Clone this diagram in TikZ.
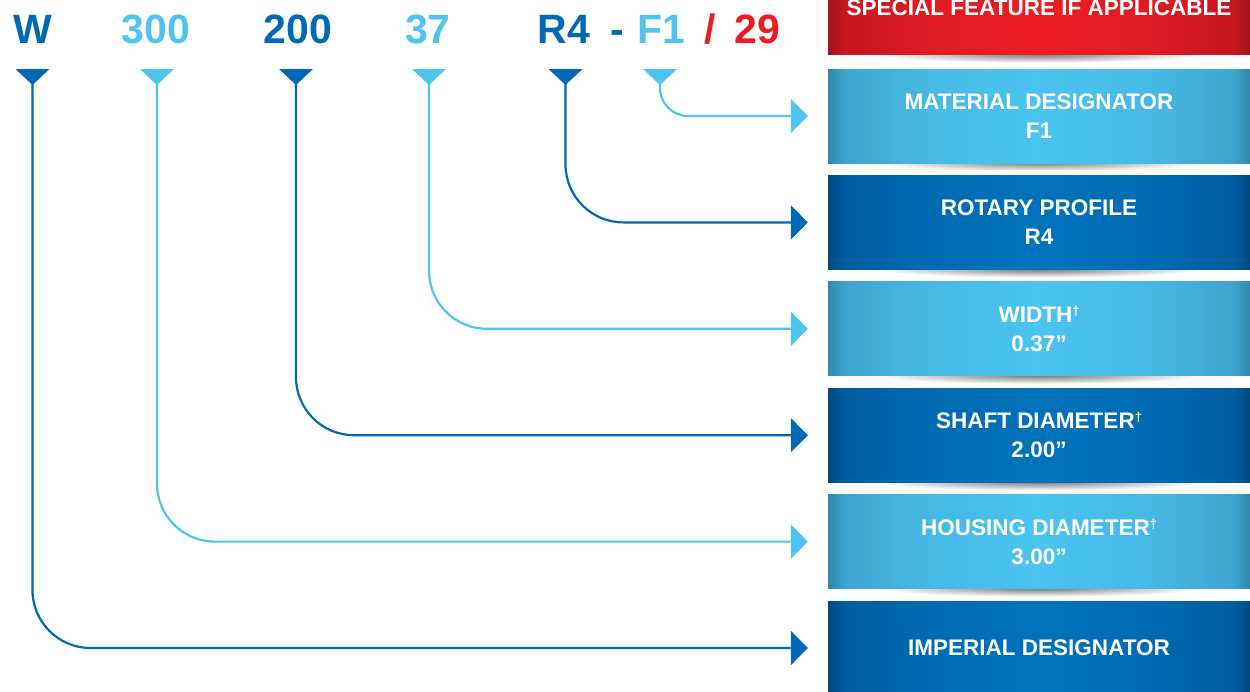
\documentclass[tikz,border=0pt]{standalone}
\usepackage{fontspec}
\setmainfont{Liberation Sans}
\usetikzlibrary{arrows.meta,positioning,backgrounds}

\definecolor{dkblue}{RGB}{0,104,180}
\definecolor{ltblue}{RGB}{79,196,241}
\definecolor{codered}{RGB}{237,28,36}
\definecolor{dkedge}{RGB}{0,74,130}
\definecolor{dkmid}{RGB}{0,114,188}
\definecolor{ltedge}{RGB}{50,134,172}
\definecolor{ltmid}{RGB}{75,196,240}
\definecolor{rdedge}{RGB}{160,20,26}
\definecolor{rdmid}{RGB}{237,28,36}

% darker edges, soft towards the middle
\pgfdeclarehorizontalshading{ltshade}{100bp}{color(0bp)=(ltedge); color(25bp)=(ltedge);
  color(27bp)=(ltmid!50!ltedge); color(37bp)=(ltmid!82!ltedge); color(50bp)=(ltmid);
  color(63bp)=(ltmid!82!ltedge); color(73bp)=(ltmid!50!ltedge);
  color(75bp)=(ltedge); color(100bp)=(ltedge)}
\pgfdeclarehorizontalshading{dkshade}{100bp}{color(0bp)=(dkedge); color(25bp)=(dkedge);
  color(27bp)=(dkmid!50!dkedge); color(37bp)=(dkmid!82!dkedge); color(50bp)=(dkmid);
  color(63bp)=(dkmid!82!dkedge); color(73bp)=(dkmid!50!dkedge);
  color(75bp)=(dkedge); color(100bp)=(dkedge)}
\pgfdeclarehorizontalshading{rdshade}{100bp}{color(0bp)=(rdedge); color(25bp)=(rdedge);
  color(27bp)=(rdmid!50!rdedge); color(37bp)=(rdmid!82!rdedge); color(50bp)=(rdmid);
  color(63bp)=(rdmid!82!rdedge); color(73bp)=(rdmid!50!rdedge);
  color(75bp)=(rdedge); color(100bp)=(rdedge)}

\newcommand{\dagmark}{\raisebox{7pt}{\fontsize{13}{13}\selectfont\bfseries †}}

\tikzset{
  code/.style={font=\fontsize{41}{41}\selectfont\bfseries, anchor=base, inner sep=0pt},
  infobox/.style={minimum width=422pt, minimum height=94pt, inner sep=0pt, align=center,
    text=white, font=\fontsize{22.5}{29}\selectfont\bfseries, shading angle=0},
  ltbox/.style={infobox, shade, shading=ltshade},
  dkbox/.style={infobox, shade, shading=dkshade},
  rdbox/.style={infobox, shade, shading=rdshade},
  link/.style={line width=2.2pt, rounded corners=58pt, shorten >=20pt,
    -{Triangle[width=34pt,length=17pt]}},
}

\begin{document}
\begin{tikzpicture}[x=1pt,y=-1pt]

  \useasboundingbox (0,0) rectangle (1250,691);

  % code letters
  \node[code,text=dkblue] (cW) at (33,43) {W};
  \node[code,text=ltblue] (c300) at (156,43) {300};
  \node[code,text=dkblue] (c200) at (298,43) {200};
  \node[code,text=ltblue] (c37) at (428,43) {37};
  \node[code,text=dkblue] (cR4) at (564,43) {R4};
  \node[code,text=dkblue] (cdash) at (617,43) {-};
  \node[code,text=ltblue] (cF1) at (661,43) {F1};
  \node[code,text=codered] (cslash) at (710,43) {/};
  \node[code,text=codered] (c29) at (757,43) {29};

  % markers
  \foreach \x/\c/\n in {32.5/dkblue/W, 157/ltblue/300, 296/dkblue/200,
                        429/ltblue/37, 565.5/dkblue/R4, 660/ltblue/F1} {
    \fill[\c] (\x-17,69) -- ++(34,0) -- (\x,85) -- cycle;
    \coordinate (m\n) at (\x,80);
  }

  % boxes
  \node[ltbox] (mat) at (1039,116) {MATERIAL DESIGNATOR\\F1};
  \node[rdbox,above=14pt of mat] (spec) {SPECIAL FEATURE IF APPLICABLE};
  \node[dkbox,below=12pt of mat] (rot) {ROTARY PROFILE\\R4};
  \node[ltbox,below=12pt of rot] (wid) {WIDTH\dagmark\\0.37”};
  \node[dkbox,below=12pt of wid] (shaft) {SHAFT DIAMETER\dagmark\\2.00”};
  \node[ltbox,below=12pt of shaft] (hous) {HOUSING DIAMETER\dagmark\\3.00”};
  \node[dkbox,below=12pt of hous] (imp) {IMPERIAL DESIGNATOR};

  % shadows
  \begin{scope}[on background layer]
    \foreach \b in {spec,mat,rot,wid,shaft,hous}
      \shade[inner color=black!55, outer color=white] ([yshift=1pt]\b.south) ellipse [x radius=165pt, y radius=9pt];
  \end{scope}

  % connectors
  \draw[link,dkblue] (mW) |- (imp.west);
  \draw[link,ltblue] (m300) |- (hous.west);
  \draw[link,dkblue] (m200) |- (shaft.west);
  \draw[link,ltblue] (m37) |- (wid.west);
  \draw[link,dkblue] (mR4) |- (rot.west);
  \draw[link,ltblue,rounded corners=28pt] (mF1) |- (mat.west);

\end{tikzpicture}
\end{document}
